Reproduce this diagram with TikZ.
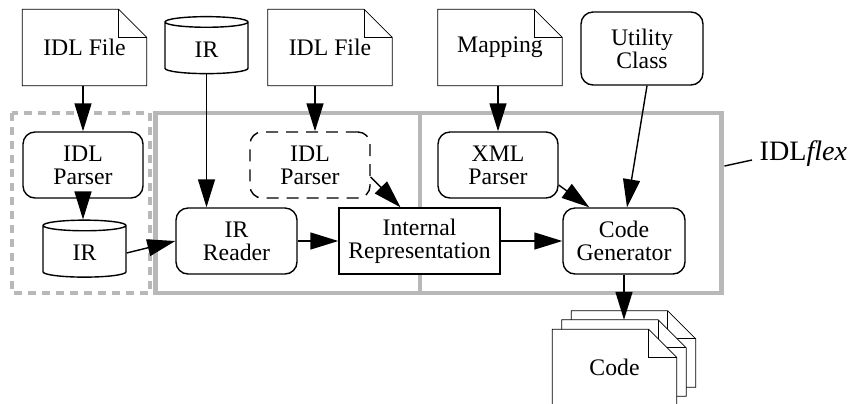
\documentclass[tikz,border=0pt]{standalone}
\usepackage{fontspec}
\setmainfont{Liberation Serif}
\usetikzlibrary{positioning,calc,arrows.meta,shapes.geometric,backgrounds}

% feuille avec coin plie
\newcommand{\feuille}[1]{%
  \draw[fill=white] (#1.north west) -- ([xshift=-0.56cm]#1.north east) -- ([yshift=-0.56cm]#1.north east) -- (#1.south east) -- (#1.south west) -- cycle;
  \draw ([xshift=-0.56cm]#1.north east) |- ([yshift=-0.56cm]#1.north east);
}

\begin{document}
\begin{tikzpicture}[x=0.02cm,y=-0.02cm,line width=0.8pt,
    font=\fontsize{13.5}{13.2}\selectfont,
    doc/.style={rectangle,minimum width=2.46cm,minimum height=1.5cm,align=center},
    boite/.style={rectangle,rounded corners=0.24cm,draw,fill=white,minimum width=2.4cm,minimum height=1.32cm,align=center},
    boitept/.style={boite,dash pattern=on 0.24cm off 0.16cm},
    ir/.style={cylinder,shape border rotate=90,aspect=0.3,draw,fill=white,minimum width=1.66cm,minimum height=1.14cm},
    cadre/.style={draw=black!28,line width=2.8pt},
    cadrept/.style={cadre,dash pattern=on 0.16cm off 0.12cm},
    fl/.style={-{Triangle[length=0.56cm,width=0.34cm]}}]
\useasboundingbox (0,0) rectangle (851,403);

% Cadres
\node[cadre,minimum width=11.34cm,minimum height=3.6cm] (outil) at (438.5,203) {};
\draw[cadre] (420,113) -- (420,293);
\draw[cadrept] (12,113) rectangle (150,293);

% Entrees
\node[doc] (idl1) at (84.5,47.5) {IDL File};
\node[ir] (irsrc) at (206.5,49.5) {IR};
\node[doc] (idl2) at (330,47.5) {IDL File};
\node[doc] (map) at (500,47.5) {Mapping};
\node[boite,minimum width=2.44cm,minimum height=1.46cm] (util) at (642,48.5) {Utility\\Class};

% Outil
\node[boite] (parse1) at (83,165) {IDL\\Parser};
\node[ir] (irdb) at (84.5,253) {IR};
\node[boite,minimum width=2.42cm] (reader) at (236.5,241) {IR\\Reader};
\node[boitept] (parse2) at (310,165) {IDL\\Parser};
\node[boite,sharp corners,minimum width=3.22cm] (rep) at (419.5,241) {Internal\\Representation};
\node[boite] (xml) at (498,165) {XML\\Parser};
\node[boite,minimum width=2.44cm] (gen) at (624,241) {Code\\Generator};

% Sortie
\node[doc] (code3) at (633.5,349) {};
\node[doc] (code2) at (624,358) {};
\node[doc] (code) at (614.5,367.5) {Code};

\begin{scope}[on background layer]
  \foreach \f in {idl1,idl2,map,code3,code2,code} {\feuille{\f}}
\end{scope}

% Fleches
\draw[fl] (parse1.north |- idl1.south) -- (parse1.north);
\draw[fl] (parse1.south) -- (parse1.south |- irdb.north);
\draw[fl] (irsrc.south) -- (irsrc.south |- reader.north);
\draw[fl] (irdb.east) -- (reader.west);
\draw[fl] ([xshift=0.1cm]parse2.north |- idl2.south) -- ([xshift=0.1cm]parse2.north);
\draw[fl] ([yshift=-0.24cm]parse2.east) -- ([xshift=-0.38cm]rep.north);
\draw[fl] (reader.east) -- (rep.west);
\draw[fl] (xml.north |- map.south) -- (xml.north);
\draw[fl] ([yshift=-0.4cm]xml.east) -- ([xshift=0.54cm]gen.north west);
\draw[fl] ([xshift=0.1cm]util.south) -- ([xshift=0.06cm]gen.north);
\draw[fl] (rep.east) -- (gen.west);
\draw[fl] (gen.south) -- (code2.north);

% Etiquette
\node[font=\fontsize{16}{16}\selectfont,inner sep=4pt,anchor=base west] (flex) at (752,160) {IDL\textit{flex}};
\draw ($(outil.north east)!0.3!(outil.south east)$) -- (flex.base west);

\end{tikzpicture}
\end{document}
